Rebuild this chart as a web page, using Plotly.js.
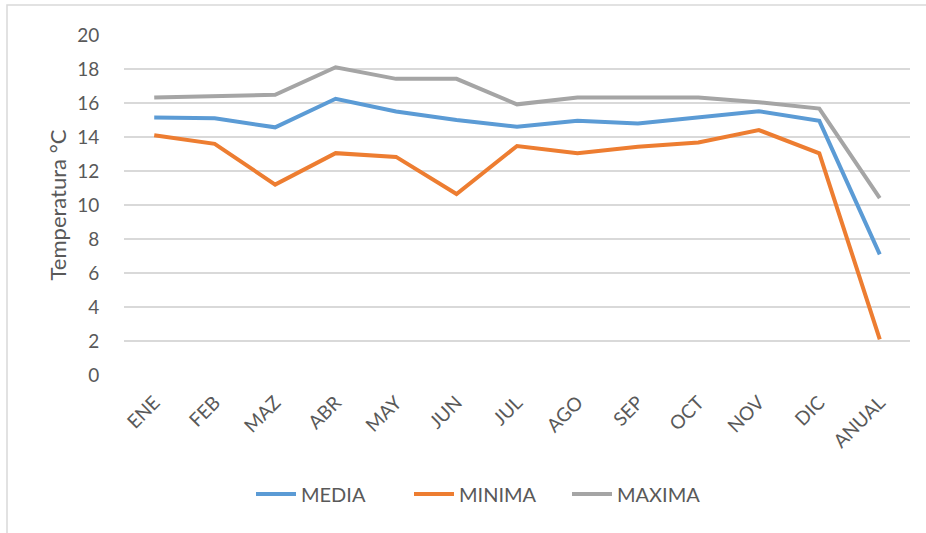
<!DOCTYPE html>
<html>
<head>
<meta charset="utf-8">
<script src="https://cdn.plot.ly/plotly-3.0.1.min.js"></script>
<style>
html,body{margin:0;padding:0;background:#fff;}
#chart{width:926px;height:533px;}
</style>
</head>
<body>
<div id="chart"></div>
<script>
const categories = ["ENE","FEB","MAZ","ABR","MAY","JUN","JUL","AGO","SEP","OCT","NOV","DIC","ANUAL"];
const media  = [15.15, 15.1, 14.57, 16.25, 15.5, 15.0, 14.6, 14.95, 14.8, 15.15, 15.52, 14.95, 7.1];
const minima = [14.1, 13.6, 11.2, 13.05, 12.83, 10.65, 13.47, 13.04, 13.43, 13.68, 14.41, 13.04, 2.1];
const maxima = [16.33, 16.4, 16.48, 18.1, 17.42, 17.42, 15.92, 16.33, 16.33, 16.33, 16.05, 15.67, 10.4];
const yTicks = [0,2,4,6,8,10,12,14,16,18,20];

const W = 926, H = 533;
const L = 124, R = 16, T = 35, B = 158;
const pw = W - L - R, ph = H - T - B;

const lineW = 4;
const traces = [
  {x: categories, y: media, name: "MEDIA", type: "scatter", mode: "lines",
   line: {color: "#5B9BD5", width: lineW}},
  {x: categories, y: minima, name: "MINIMA", type: "scatter", mode: "lines",
   line: {color: "#ED7D31", width: lineW}},
  {x: categories, y: maxima, name: "MAXIMA", type: "scatter", mode: "lines",
   line: {color: "#A5A5A5", width: lineW}}
];

const font = "Lato, 'Open Sans', sans-serif";
const layout = {
  width: W, height: H,
  margin: {l: L, r: R, t: T, b: B, pad: 0},
  paper_bgcolor: "#ffffff",
  plot_bgcolor: "#ffffff",
  showlegend: true,
  font: {family: font, color: "#595959", size: 18},
  xaxis: {
    type: "category",
    tickangle: -45,
    showgrid: false,
    zeroline: false,
    showline: false,
    ticks: "outside",
    ticklen: 8,
    tickcolor: "rgba(0,0,0,0)",
    tickfont: {family: font, size: 19, color: "#595959"},
    range: [-0.5, categories.length - 0.5]
  },
  yaxis: {
    range: [0, 20],
    tickvals: yTicks,
    ticktext: yTicks.map(String),
    showgrid: true,
    gridcolor: "#D9D9D9",
    gridwidth: 1.5,
    zeroline: false,
    showline: false,
    ticks: "outside",
    ticklen: 20,
    tickcolor: "rgba(0,0,0,0)",
    tickfont: {family: font, size: 19, color: "#595959"},
    title: {text: "Temperatura °C", font: {family: font, size: 22, color: "#595959"}, standoff: 4}
  },
  legend: {
    orientation: "h",
    xref: "container", yref: "container",
    x: 0.527, xanchor: "center",
    y: 1 - 494/533, yanchor: "middle",
    font: {family: font, size: 20, color: "#595959"},
    entrywidth: 103,
    itemwidth: 40
  },
  shapes: [{
    type: "rect", xref: "paper", yref: "paper",
    x0: (7 - L)/pw, x1: (930 - L)/pw,
    y0: (H - 536 - B)/ph, y1: (H - 5 - B)/ph,
    line: {color: "#D9D9D9", width: 1.5},
    fillcolor: "rgba(0,0,0,0)", layer: "below"
  }]
};

Plotly.newPlot("chart", traces, layout, {displayModeBar: false, staticPlot: true});
</script>
</body>
</html>
